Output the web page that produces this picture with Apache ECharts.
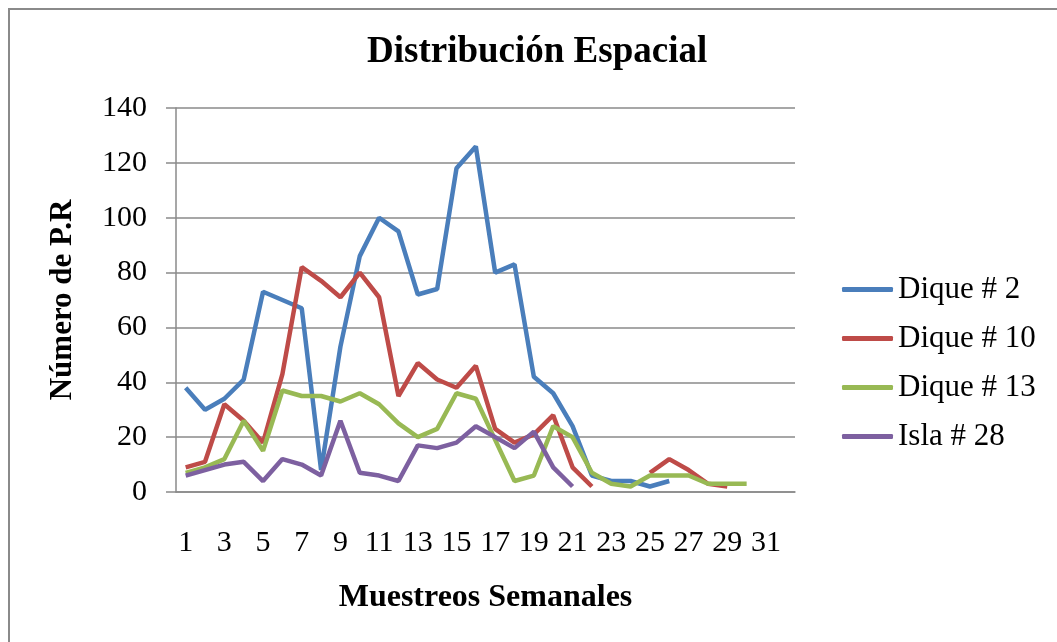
<html>
<head>
<meta http-equiv="content-type" content="text/html; charset=utf-8">
<script src="https://cdn.jsdelivr.net/npm/echarts@6/dist/echarts.min.js"></script>
<style>
	html, body { margin: 0; padding: 0; background: #ffffff; }
	#frame { position: absolute; left: 8px; top: 8px; width: 1060px; height: 650px; border-left: 2px solid #8a8a8a; border-top: 2px solid #8a8a8a; }
	#chart { position: absolute; left: 0; top: 0; width: 1057px; height: 642px; }
</style>
<title>Distribución Espacial</title>
</head>
<body>
<div id="frame"></div>
<div id="chart"></div>
<script type="text/javascript">
// data
var semanas = [];
for (var i = 1; i <= 32; i++) semanas.push(String(i));

var dique2  = [38,30,34,41,73,70,67,8,53,86,100,95,72,74,118,126,80,83,42,36,24,6,4,4,2,4,null,null,null,null,null,null];
var dique10 = [9,11,32,26,18,43,82,77,71,80,71,35,47,41,38,46,23,18,21,28,9,2,null,null,7,12,8,3,2,null,null,null];
var dique13 = [7,9,12,26,15,37,35,35,33,36,32,25,20,23,36,34,19,4,6,24,20,7,3,2,6,6,6,3,3,3,null,null];
var isla28  = [6,8,10,11,4,12,10,6,26,7,6,4,17,16,18,24,20,16,22,9,2,null,null,null,null,null,null,null,null,null,null,null];

var nombres = ['Dique # 2', 'Dique # 10', 'Dique # 13', 'Isla # 28'];
var colores = ['#4a7ebb', '#be4b48', '#98b954', '#7d60a0'];

var fuente = '"Liberation Serif", "Times New Roman", serif';

function serie(nombre, datos, color) {
	return {
		name: nombre,
		type: 'line',
		data: datos,
		symbol: 'none',
		connectNulls: false,
		lineStyle: { width: 4.5, color: color },
		itemStyle: { color: color },
		animation: false
	};
}

var chart = echarts.init(document.getElementById('chart'), null, { renderer: 'canvas' });

chart.setOption({
	animation: false,
	textStyle: { fontFamily: fuente, color: '#000' },
	title: {
		text: 'Distribución Espacial',
		left: 362,
		top: 29,
		textStyle: { fontFamily: fuente, fontSize: 37, fontWeight: 'bold', color: '#000' }
	},
	grid: { left: 176, top: 108, right: 262, bottom: 150 },
	legend: {
		orient: 'vertical',
		left: 837,
		top: 269,
		itemGap: 18,
		itemWidth: 51,
		itemHeight: 5,
		icon: 'roundRect',
		data: nombres,
		textStyle: { fontFamily: fuente, fontSize: 31, color: '#000', lineHeight: 31 }
	},
	xAxis: {
		type: 'category',
		data: semanas,
		boundaryGap: true,
		name: 'Muestreos Semanales',
		nameLocation: 'middle',
		nameGap: 90,
		nameTextStyle: { fontFamily: fuente, fontSize: 32, fontWeight: 'bold', color: '#000' },
		axisLine: { lineStyle: { color: '#8a8a8a', width: 1.5 } },
		axisTick: { show: false },
		axisLabel: { interval: 1, margin: 36, fontFamily: fuente, fontSize: 30, color: '#000' },
		splitLine: { show: false }
	},
	yAxis: {
		type: 'value',
		min: 0,
		max: 140,
		interval: 20,
		name: 'Número de P.R',
		nameLocation: 'middle',
		nameGap: 98,
		nameTextStyle: { fontFamily: fuente, fontSize: 31, fontWeight: 'bold', color: '#000' },
		axisLine: { show: true, lineStyle: { color: '#8a8a8a', width: 1.5 } },
		axisTick: { show: true, length: 10, lineStyle: { color: '#8a8a8a', width: 1.5 } },
		axisLabel: { margin: 29, fontFamily: fuente, fontSize: 30, color: '#000' },
		splitLine: { lineStyle: { color: '#8a8a8a', width: 1.5 } }
	},
	series: [
		serie(nombres[0], dique2, colores[0]),
		serie(nombres[1], dique10, colores[1]),
		serie(nombres[2], dique13, colores[2]),
		serie(nombres[3], isla28, colores[3])
	]
});
</script>
</body>
</html>
